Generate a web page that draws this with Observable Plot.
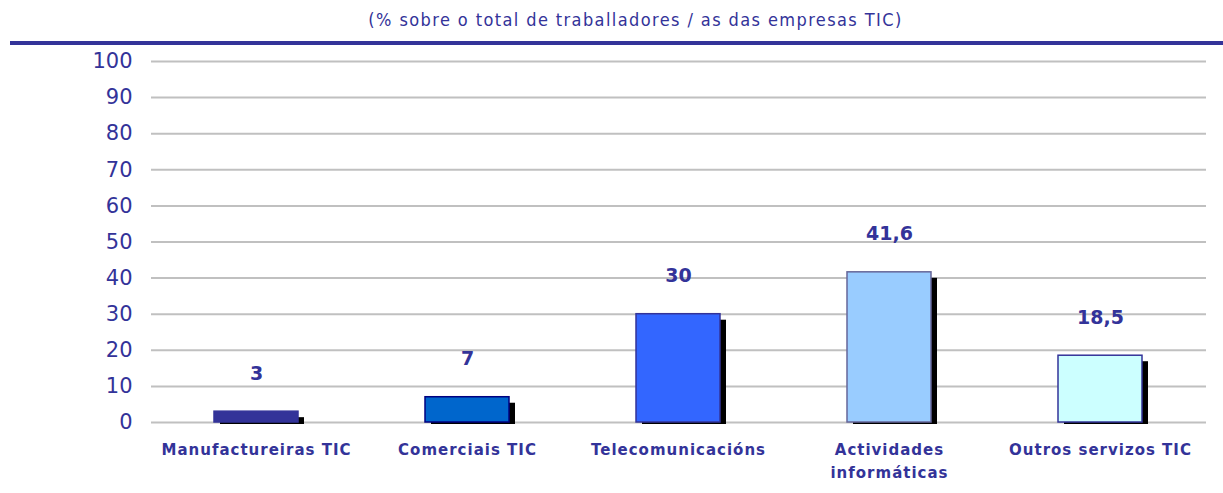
<!DOCTYPE html>
<html><head><meta charset="utf-8">
<script src="https://cdn.jsdelivr.net/npm/d3@7"></script>
<script src="https://cdn.jsdelivr.net/npm/@observablehq/plot@0.6"></script>
<style>
body{margin:0;background:#fff;font-family:"DejaVu Sans",Verdana,sans-serif;}
#title{height:41px;box-sizing:border-box;padding-top:9px;padding-left:48px;text-align:center;color:#333399;font-size:18px;letter-spacing:1.4px;font-family:"DejaVu Sans Condensed","DejaVu Sans",sans-serif;}
#rule{margin-left:10px;height:4px;background:#333399;}
g[aria-label="x-axis tick label"] text{letter-spacing:1px;}
</style></head>
<body>
<div id="title">(% sobre o total de traballadores / as das empresas TIC)</div>
<div id="rule"></div>
<div id="chart"></div>
<script>
const categories = ["Manufactureiras TIC","Comerciais TIC","Telecomunicacións","Actividades\ninformáticas","Outros servizos TIC"];
const values = [3, 7, 30, 41.6, 18.5];
const fills = ["#333399","#0066CC","#3366FF","#99CCFF","#CCFFFF"];
const strokes = ["#333399","#000080","#333399","#666699","#333399"];
const yTicks = [0,10,20,30,40,50,60,70,80,90,100];

const data = categories.map((c,i)=>({cat:c, value:values[i], fill:fills[i], stroke:strokes[i]}));
const fmt = v => String(v).replace(".", ",");

const chart = Plot.plot({
  width: 1223,
  height: 448,
  marginTop: 16,
  marginBottom: 71,
  marginLeft: 151,
  marginRight: 17,
  style: {fontFamily: "DejaVu Sans, Verdana, sans-serif", color: "#333399", background: "#fff"},
  x: {domain: categories, paddingInner: 0.6, paddingOuter: 0.3, label: null},
  y: {domain: [0, 100], label: null},
  marks: [
    Plot.ruleY(yTicks, {stroke: "#c0c0c0", strokeWidth: 2}),
    Plot.barY(data, {x: "cat", y: "value", fill: "#000", dx: 6, dy: 2, insetTop: 4}),
    Plot.barY(data, {x: "cat", y: "value", fill: d => d.fill, stroke: d => d.stroke, strokeWidth: 1.5}),
    Plot.text(data, {x: "cat", y: "value", text: d => fmt(d.value), dy: -38, fill: "#333399", fontSize: 19, fontWeight: "bold"}),
    Plot.axisY({ticks: yTicks, tickSize: 0, tickPadding: 19, fontSize: 21, fill: "#333399", label: null}),
    Plot.axisX({tickSize: 0, tickPadding: 16, fontSize: 15, fontWeight: "bold", fill: "#333399", lineHeight: 1.55, label: null})
  ]
});
document.getElementById("chart").appendChild(chart);
</script>
</body></html>
